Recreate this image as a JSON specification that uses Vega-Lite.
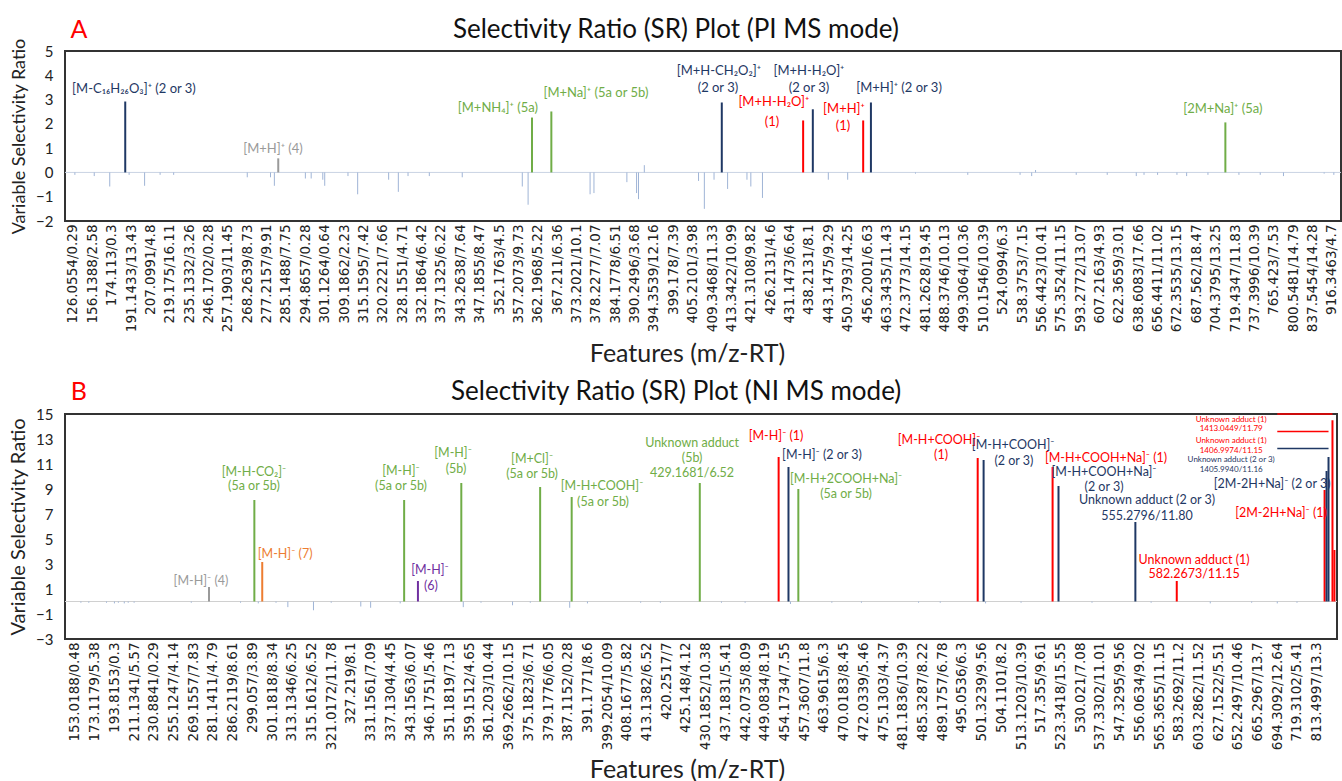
{
  "$schema": "https://vega.github.io/schema/vega-lite/v6.json",
  "background": "white",
  "padding": {"left": 7, "top": 15, "right": 0, "bottom": 0},
  "spacing": 9,
  "config": {
    "font": "Lato",
    "view": {"stroke": "#333333", "strokeWidth": 2},
    "axis": {"grid": false, "ticks": false, "domain": false, "labelColor": "#222222", "titleColor": "#222222", "titleFontWeight": "normal", "labelFont": "Lato", "titleFont": "Lato", "labelOverlap": false, "labelSeparation": 0},
    "text": {"font": "Lato"}
  },
  "datasets": {
    "barsA": [
      {"feature": 1, "sr": -0.1, "compound": "minor"}, {"feature": 11, "sr": -0.15, "compound": "minor"}, {"feature": 19, "sr": -0.58, "compound": "minor"}, {"feature": 29, "sr": -0.1, "compound": "minor"}, {"feature": 37, "sr": -0.55, "compound": "minor"}, {"feature": 45, "sr": -0.1, "compound": "minor"}, {"feature": 52, "sr": -0.1, "compound": "minor"}, {"feature": 90, "sr": -0.2, "compound": "minor"}, {"feature": 102, "sr": -0.2, "compound": "minor"}, {"feature": 104, "sr": -0.55, "compound": "minor"}, {"feature": 120, "sr": -0.25, "compound": "minor"}, {"feature": 123, "sr": -0.25, "compound": "minor"}, {"feature": 129, "sr": -0.3, "compound": "minor"}, {"feature": 130, "sr": -0.55, "compound": "minor"}, {"feature": 142, "sr": -0.15, "compound": "minor"}, {"feature": 147, "sr": -0.9, "compound": "minor"}, {"feature": 163, "sr": -0.3, "compound": "minor"}, {"feature": 168, "sr": -0.8, "compound": "minor"}, {"feature": 173, "sr": -0.15, "compound": "minor"}, {"feature": 184, "sr": -0.15, "compound": "minor"}, {"feature": 201, "sr": -0.2, "compound": "minor"}, {"feature": 232, "sr": -0.58, "compound": "minor"}, {"feature": 235, "sr": -1.33, "compound": "minor"}, {"feature": 267, "sr": -0.9, "compound": "minor"}, {"feature": 269, "sr": -0.85, "compound": "minor"}, {"feature": 286, "sr": -0.4, "compound": "minor"}, {"feature": 291, "sr": -0.85, "compound": "minor"}, {"feature": 292, "sr": -1.1, "compound": "minor"}, {"feature": 295, "sr": 0.3, "compound": "minor"}, {"feature": 323, "sr": -0.35, "compound": "minor"}, {"feature": 326, "sr": -1.5, "compound": "minor"}, {"feature": 331, "sr": -0.3, "compound": "minor"}, {"feature": 338, "sr": -0.68, "compound": "minor"}, {"feature": 348, "sr": -0.3, "compound": "minor"}, {"feature": 350, "sr": -0.58, "compound": "minor"}, {"feature": 356, "sr": -1.05, "compound": "minor"}, {"feature": 390, "sr": -0.3, "compound": "minor"}, {"feature": 400, "sr": -0.3, "compound": "minor"}, {"feature": 435, "sr": -0.05, "compound": "minor"}, {"feature": 462, "sr": -0.1, "compound": "minor"}, {"feature": 489, "sr": -0.1, "compound": "minor"}, {"feature": 495, "sr": -0.15, "compound": "minor"}, {"feature": 497, "sr": 0.1, "compound": "minor"}, {"feature": 518, "sr": -0.1, "compound": "minor"}, {"feature": 534, "sr": -0.1, "compound": "minor"}, {"feature": 549, "sr": -0.15, "compound": "minor"}, {"feature": 553, "sr": -0.1, "compound": "minor"}, {"feature": 560, "sr": -0.1, "compound": "minor"}, {"feature": 570, "sr": -0.1, "compound": "minor"}, {"feature": 575, "sr": -0.15, "compound": "minor"}, {"feature": 586, "sr": -0.1, "compound": "minor"}, {"feature": 602, "sr": -0.1, "compound": "minor"}, {"feature": 613, "sr": -0.1, "compound": "minor"}, {"feature": 625, "sr": -0.15, "compound": "minor"}, {"feature": 646, "sr": -0.05, "compound": "minor"}, {"feature": 651, "sr": -0.1, "compound": "minor"},
      {"feature": 27, "sr": 2.92, "compound": "2 or 3"}, {"feature": 106, "sr": 0.58, "compound": "4"}, {"feature": 237, "sr": 2.26, "compound": "5"}, {"feature": 247, "sr": 2.51, "compound": "5"}, {"feature": 335, "sr": 2.88, "compound": "2 or 3"}, {"feature": 377, "sr": 2.14, "compound": "1"}, {"feature": 382, "sr": 2.6, "compound": "2 or 3"}, {"feature": 408, "sr": 2.14, "compound": "1"}, {"feature": 412, "sr": 2.88, "compound": "2 or 3"}, {"feature": 595, "sr": 2.06, "compound": "5"}
    ],
    "labelsA": [
      {"feature": 31.5, "sr": 3.42, "text": "[M-C₁₆H₂₆O₃]⁺ (2 or 3)", "compound": "2 or 3"},
      {"feature": 103.3, "sr": 0.95, "text": "[M+H]⁺ (4)", "compound": "4"},
      {"feature": 219.4, "sr": 2.67, "text": "[M+NH₄]⁺ (5a)", "compound": "5"},
      {"feature": 270.0, "sr": 3.29, "text": "[M+Na]⁺ (5a or 5b)", "compound": "5"},
      {"feature": 333.5, "sr": 4.16, "text": "[M+H-CH₂O₂]⁺", "compound": "2 or 3"},
      {"feature": 333.0, "sr": 3.46, "text": "(2 or 3)", "compound": "2 or 3"},
      {"feature": 380.0, "sr": 4.16, "text": "[M+H-H₂O]⁺", "compound": "2 or 3"},
      {"feature": 380.0, "sr": 3.46, "text": "(2 or 3)", "compound": "2 or 3"},
      {"feature": 361.9, "sr": 2.88, "text": "[M+H-H₂O]⁺", "compound": "1"},
      {"feature": 360.9, "sr": 2.06, "text": "(1)", "compound": "1"},
      {"feature": 398.1, "sr": 2.63, "text": "[M+H]⁺", "compound": "1"},
      {"feature": 397.6, "sr": 1.93, "text": "(1)", "compound": "1"},
      {"feature": 426.5, "sr": 3.46, "text": "[M+H]⁺ (2 or 3)", "compound": "2 or 3"},
      {"feature": 593.7, "sr": 2.63, "text": "[2M+Na]⁺ (5a)", "compound": "5"}
    ],
    "headA": [
      {"feature": 311.3, "sr": 5.88, "text": "Selectivity Ratio (SR) Plot (PI MS mode)", "part": "title"},
      {"feature": 3.1, "sr": 5.88, "text": "A", "part": "tag"}
    ],
    "barsB": [
      {"feature": 3, "sr": -0.1, "compound": "minor"}, {"feature": 7, "sr": -0.1, "compound": "minor"}, {"feature": 16, "sr": -0.1, "compound": "minor"}, {"feature": 20, "sr": -0.15, "compound": "minor"}, {"feature": 22, "sr": -0.1, "compound": "minor"}, {"feature": 25, "sr": -0.15, "compound": "minor"}, {"feature": 27, "sr": -0.1, "compound": "minor"}, {"feature": 30, "sr": -0.1, "compound": "minor"}, {"feature": 59, "sr": -0.1, "compound": "minor"}, {"feature": 84, "sr": -0.1, "compound": "minor"}, {"feature": 93, "sr": -0.15, "compound": "minor"}, {"feature": 102, "sr": -0.1, "compound": "minor"}, {"feature": 108, "sr": -0.45, "compound": "minor"}, {"feature": 121, "sr": -0.7, "compound": "minor"}, {"feature": 130, "sr": -0.1, "compound": "minor"}, {"feature": 145, "sr": -0.4, "compound": "minor"}, {"feature": 150, "sr": -0.5, "compound": "minor"}, {"feature": 165, "sr": -0.15, "compound": "minor"}, {"feature": 197, "sr": -0.45, "compound": "minor"}, {"feature": 206, "sr": -0.1, "compound": "minor"}, {"feature": 222, "sr": -0.3, "compound": "minor"}, {"feature": 231, "sr": -0.1, "compound": "minor"}, {"feature": 251, "sr": -0.5, "compound": "minor"}, {"feature": 260, "sr": -0.15, "compound": "minor"}, {"feature": 287, "sr": -0.1, "compound": "minor"}, {"feature": 297, "sr": -0.1, "compound": "minor"}, {"feature": 328, "sr": -0.1, "compound": "minor"}, {"feature": 340, "sr": -0.1, "compound": "minor"}, {"feature": 363, "sr": -0.2, "compound": "minor"}, {"feature": 384, "sr": -0.1, "compound": "minor"}, {"feature": 399, "sr": -0.1, "compound": "minor"}, {"feature": 428, "sr": -0.1, "compound": "minor"}, {"feature": 439, "sr": -0.1, "compound": "minor"}, {"feature": 462, "sr": -0.15, "compound": "minor"}, {"feature": 480, "sr": -0.1, "compound": "minor"}, {"feature": 516, "sr": -0.1, "compound": "minor"}, {"feature": 546, "sr": -0.1, "compound": "minor"}, {"feature": 576, "sr": -0.15, "compound": "minor"}, {"feature": 597, "sr": -0.1, "compound": "minor"}, {"feature": 610, "sr": -0.15, "compound": "minor"}, {"feature": 620, "sr": -0.1, "compound": "minor"},
      {"feature": 68, "sr": 1.16, "compound": "4"}, {"feature": 91, "sr": 8.12, "compound": "5"}, {"feature": 95, "sr": 3.16, "compound": "7"}, {"feature": 167, "sr": 8.12, "compound": "5"}, {"feature": 174, "sr": 1.64, "compound": "6"}, {"feature": 196, "sr": 9.48, "compound": "5"}, {"feature": 236, "sr": 9.16, "compound": "5"}, {"feature": 252, "sr": 8.36, "compound": "5"}, {"feature": 317, "sr": 9.48, "compound": "5"}, {"feature": 357, "sr": 11.56, "compound": "1"}, {"feature": 362, "sr": 10.76, "compound": "2 or 3"}, {"feature": 367, "sr": 9.0, "compound": "5"}, {"feature": 458, "sr": 11.48, "compound": "1"}, {"feature": 461, "sr": 11.32, "compound": "2 or 3"}, {"feature": 496, "sr": 10.76, "compound": "1"}, {"feature": 499, "sr": 9.24, "compound": "2 or 3"}, {"feature": 538, "sr": 6.36, "compound": "2 or 3"}, {"feature": 559, "sr": 1.64, "compound": "1"}, {"feature": 634, "sr": 8.92, "compound": "1"}, {"feature": 635, "sr": 10.44, "compound": "2 or 3"}, {"feature": 636, "sr": 11.56, "compound": "2 or 3"}, {"feature": 638, "sr": 14.5, "compound": "1"}, {"feature": 639, "sr": 4.12, "compound": "1"}
    ],
    "labelsB": [
      {"feature": 63.9, "sr": 1.68, "text": "[M-H]⁻ (4)", "compound": "4"},
      {"feature": 90.8, "sr": 10.4, "text": "[M-H-CO₂]⁻", "compound": "5"},
      {"feature": 90.8, "sr": 9.28, "text": "(5a or 5b)", "compound": "5"},
      {"feature": 106.6, "sr": 3.84, "text": "[M-H]⁻ (7)", "compound": "7"},
      {"feature": 165.4, "sr": 10.48, "text": "[M-H]⁻", "compound": "5"},
      {"feature": 165.4, "sr": 9.28, "text": "(5a or 5b)", "compound": "5"},
      {"feature": 180.1, "sr": 2.56, "text": "[M-H]⁻", "compound": "6"},
      {"feature": 180.6, "sr": 1.28, "text": "(6)", "compound": "6"},
      {"feature": 191.8, "sr": 11.92, "text": "[M-H]⁻", "compound": "5"},
      {"feature": 193.3, "sr": 10.64, "text": "(5b)", "compound": "5"},
      {"feature": 231.9, "sr": 11.44, "text": "[M+Cl]⁻", "compound": "5"},
      {"feature": 231.9, "sr": 10.24, "text": "(5a or 5b)", "compound": "5"},
      {"feature": 267.4, "sr": 9.28, "text": "[M-H+COOH]⁻", "compound": "5"},
      {"feature": 267.9, "sr": 8.0, "text": "(5a or 5b)", "compound": "5"},
      {"feature": 313.1, "sr": 12.72, "text": "Unknown adduct", "compound": "5"},
      {"feature": 313.1, "sr": 11.52, "text": "(5b)", "compound": "5"},
      {"feature": 313.1, "sr": 10.32, "text": "429.1681/6.52", "compound": "5"},
      {"feature": 355.7, "sr": 13.28, "text": "[M-H]⁻ (1)", "compound": "1"},
      {"feature": 379.0, "sr": 11.76, "text": "[M-H]⁻ (2 or 3)", "compound": "2 or 3"},
      {"feature": 391.2, "sr": 9.84, "text": "[M-H+2COOH+Na]⁻", "compound": "5"},
      {"feature": 391.2, "sr": 8.64, "text": "(5a or 5b)", "compound": "5"},
      {"feature": 438.4, "sr": 12.96, "text": "[M-H+COOH]⁻", "compound": "1"},
      {"feature": 439.4, "sr": 11.76, "text": "(1)", "compound": "1"},
      {"feature": 476.0, "sr": 12.56, "text": "[M-H+COOH]⁻", "compound": "2 or 3"},
      {"feature": 476.4, "sr": 11.28, "text": "(2 or 3)", "compound": "2 or 3"},
      {"feature": 523.1, "sr": 11.52, "text": "[M-H+COOH+Na]⁻ (1)", "compound": "1"},
      {"feature": 522.1, "sr": 10.4, "text": "[M-H+COOH+Na]⁻", "compound": "2 or 3"},
      {"feature": 522.1, "sr": 9.2, "text": "(2 or 3)", "compound": "2 or 3"},
      {"feature": 543.9, "sr": 8.16, "text": "Unknown adduct (2 or 3)", "compound": "2 or 3"},
      {"feature": 543.9, "sr": 6.88, "text": "555.2796/11.80", "compound": "2 or 3"},
      {"feature": 567.8, "sr": 3.36, "text": "Unknown adduct (1)", "compound": "1"},
      {"feature": 567.8, "sr": 2.24, "text": "582.2673/11.15", "compound": "1"},
      {"feature": 607.4, "sr": 9.44, "text": "[2M-2H+Na]⁻ (2 or 3)", "compound": "2 or 3"},
      {"feature": 611.9, "sr": 7.12, "text": "[2M-2H+Na]⁻ (1)", "compound": "1"}
    ],
    "notesB": [
      {"feature": 586.6, "sr": 14.56, "text": "Unknown adduct (1)", "compound": "1"},
      {"feature": 586.6, "sr": 13.84, "text": "1413.0449/11.79", "compound": "1"},
      {"feature": 586.6, "sr": 12.88, "text": "Unknown adduct (1)", "compound": "1"},
      {"feature": 586.6, "sr": 12.08, "text": "1406.9974/11.15", "compound": "1"},
      {"feature": 586.6, "sr": 11.36, "text": "Unknown adduct (2 or 3)", "compound": "2 or 3"},
      {"feature": 586.6, "sr": 10.56, "text": "1405.9940/11.16", "compound": "2 or 3"}
    ],
    "leadersB": [
      {"feature": 610, "feature2": 638, "sr": 15, "compound": "1"},
      {"feature": 610, "feature2": 636, "sr": 13.6, "compound": "1"},
      {"feature": 610, "feature2": 636, "sr": 12.24, "compound": "2 or 3"}
    ],
    "headB": [
      {"feature": 305.0, "sr": 16.8, "text": "Selectivity Ratio (SR) Plot (NI MS mode)", "part": "title"},
      {"feature": 2.0, "sr": 16.8, "text": "B", "part": "tag"}
    ]
  },
  "vconcat": [
    {
      "width": 1276,
      "height": 170,
      "encoding": {
        "x": {"field": "feature", "type": "quantitative", "scale": {"domain": [-4.1, 654.7], "nice": false, "zero": false},
          "axis": {"values": [0,10,20,30,40,50,60,70,80,90,100,110,120,130,140,150,160,170,180,190,200,210,220,230,240,250,260,270,280,290,300,310,320,330,340,350,360,370,380,390,400,410,420,430,440,450,460,470,480,490,500,510,520,530,540,550,560,570,580,590,600,610,620,630,640,650],
            "labelExpr": "['126.0554/0.29','156.1388/2.58','174.113/0.3','191.1433/13.43','207.0991/4.8','219.175/16.11','235.1332/3.26','246.1702/0.28','257.1903/11.45','268.2639/8.73','277.2157/9.91','285.1488/7.75','294.8657/0.28','301.1264/0.64','309.1862/2.23','315.1595/7.42','320.2221/7.66','328.1551/4.71','332.1864/6.42','337.1325/6.22','343.2638/7.64','347.1855/8.47','352.1763/4.5','357.2073/9.73','362.1968/5.22','367.211/6.36','373.2021/10.1','378.2277/7.07','384.1778/6.51','390.2496/3.68','394.3539/12.16','399.178/7.39','405.2101/3.98','409.3468/11.33','413.3422/10.99','421.3108/9.82','426.2131/4.6','431.1473/6.64','438.2131/8.1','443.1475/9.29','450.3793/14.25','456.2001/6.63','463.3435/11.43','472.3773/14.15','481.2628/19.45','488.3746/10.13','499.3064/10.36','510.1546/10.39','524.0994/6.3','538.3753/7.15','556.4423/10.41','575.3524/11.15','593.2772/13.07','607.2163/4.93','622.3659/3.01','638.6083/17.66','656.4411/11.02','672.3535/13.15','687.562/18.47','704.3795/13.25','719.4347/11.83','737.3996/10.39','765.423/7.53','800.5481/14.79','837.5454/14.28','916.3463/4.7'][round(datum.value/10)]",
            "labelAngle": -90, "labelFont": "DejaVu Sans", "labelFontSize": 13.5, "labelPadding": 3, "labelOverlap": false, "labelBound": false, "labelFlush": false,
            "title": "Features (m/z-RT)", "titleFontSize": 25, "titlePadding": 10, "titleX": 622}},
        "y": {"field": "sr", "type": "quantitative", "scale": {"domain": [-2, 5], "nice": false, "zero": false},
          "axis": {"values": [-2, -1, 0, 1, 2, 3, 4, 5], "labelOverlap": false, "labelFontSize": 15, "labelPadding": 12, "title": "Variable Selectivity Ratio", "titleFontSize": 18, "titlePadding": 7}},
        "color": {"field": "compound", "type": "nominal", "legend": null,
          "scale": {"domain": ["1", "2 or 3", "4", "5", "6", "7", "minor"], "range": ["#ff0000", "#1f3864", "#9a9a9a", "#70ad47", "#7030a0", "#ed7d31", "#9fb4d6"]}}
      },
      "layer": [
        {
          "data": {"values": [{"sr": 0}]},
          "mark": {"type": "rule", "strokeWidth": 1},
          "encoding": {"x": {"value": 0}, "x2": {"value": "width"}, "color": {"value": "#c9d3e3"}}
        },
        {
          "data": {"name": "barsA"},
          "transform": [{"filter": "datum.compound == 'minor'"}],
          "mark": {"type": "rule", "strokeWidth": 1},
          "encoding": {"y2": {"datum": 0}}
        },
        {
          "data": {"name": "barsA"},
          "transform": [{"filter": "datum.compound != 'minor'"}],
          "mark": {"type": "rule", "strokeWidth": 2},
          "encoding": {"y2": {"datum": 0}}
        },
        {
          "data": {"name": "labelsA"},
          "mark": {"type": "text", "fontSize": 13, "align": "center", "baseline": "middle"},
          "encoding": {"text": {"field": "text"}}
        },
        {
          "data": {"name": "headA"},
          "transform": [{"filter": "datum.part == 'title'"}],
          "mark": {"type": "text", "fontSize": 26, "align": "center", "baseline": "middle"},
          "encoding": {"text": {"field": "text"}, "color": {"value": "#111111"}}
        },
        {
          "data": {"name": "headA"},
          "transform": [{"filter": "datum.part == 'tag'"}],
          "mark": {"type": "text", "fontSize": 25, "align": "center", "baseline": "middle"},
          "encoding": {"text": {"field": "text"}, "color": {"value": "#ff0000"}}
        }
      ]
    },
    {
      "width": 1272,
      "height": 225,
      "encoding": {
        "x": {"field": "feature", "type": "quantitative", "scale": {"domain": [-5.07, 640.3], "nice": false, "zero": false},
          "axis": {"values": [0,10,20,30,40,50,60,70,80,90,100,110,120,130,140,150,160,170,180,190,200,210,220,230,240,250,260,270,280,290,300,310,320,330,340,350,360,370,380,390,400,410,420,430,440,450,460,470,480,490,500,510,520,530,540,550,560,570,580,590,600,610,620,630],
            "labelExpr": "['153.0188/0.48','173.1179/5.38','193.8153/0.3','211.1341/5.57','230.8841/0.29','255.1247/4.14','269.1557/7.83','281.1411/4.79','286.2119/8.61','299.057/3.89','301.1818/8.34','313.1346/6.25','315.1612/6.52','321.0172/11.78','327.219/8.1','331.1561/7.09','337.1304/4.45','343.1563/6.07','346.1751/5.46','351.1819/7.13','359.1512/4.65','361.203/10.44','369.2662/10.15','375.1823/6.71','379.1776/6.05','387.1152/0.28','391.1771/8.6','399.2054/10.09','408.1677/5.82','413.1382/6.52','420.2517/7','425.148/4.12','430.1852/10.38','437.1831/5.41','442.0735/8.09','449.0834/8.19','454.1734/7.55','457.3607/11.8','463.9615/6.3','470.0183/8.45','472.0339/5.46','475.1303/4.37','481.1836/10.39','485.3287/8.22','489.1757/6.78','495.0536/6.3','501.3239/9.56','504.1101/8.2','513.1203/10.39','517.355/9.61','523.3418/15.55','530.021/7.08','537.3302/11.01','547.3295/9.56','556.0634/9.02','565.3655/11.15','583.2692/11.2','603.2862/11.52','627.1522/5.51','652.2497/10.46','665.2967/13.7','694.3092/12.64','719.3102/5.41','813.4997/13.3'][round(datum.value/10)]",
            "labelAngle": -90, "labelFont": "DejaVu Sans", "labelFontSize": 13.5, "labelPadding": 3, "labelOverlap": false, "labelBound": false, "labelFlush": false,
            "title": "Features (m/z-RT)", "titleFontSize": 25, "titlePadding": 8, "titleX": 622}},
        "y": {"field": "sr", "type": "quantitative", "scale": {"domain": [-3, 15], "nice": false, "zero": false},
          "axis": {"values": [-3, -1, 1, 3, 5, 7, 9, 11, 13, 15], "labelOverlap": false, "labelFontSize": 15, "labelPadding": 12, "title": "Variable Selectivity Ratio", "titleFontSize": 20, "titlePadding": 7}},
        "color": {"field": "compound", "type": "nominal", "legend": null}
      },
      "layer": [
        {
          "data": {"values": [{"sr": 0}]},
          "mark": {"type": "rule", "strokeWidth": 1},
          "encoding": {"x": {"value": 0}, "x2": {"value": "width"}, "color": {"value": "#d0d0d0"}}
        },
        {
          "data": {"name": "barsB"},
          "transform": [{"filter": "datum.compound == 'minor'"}],
          "mark": {"type": "rule", "strokeWidth": 1},
          "encoding": {"y2": {"datum": 0}}
        },
        {
          "data": {"name": "barsB"},
          "transform": [{"filter": "datum.compound != 'minor'"}],
          "mark": {"type": "rule", "strokeWidth": 2},
          "encoding": {"y2": {"datum": 0}}
        },
        {
          "data": {"name": "leadersB"},
          "mark": {"type": "rule", "strokeWidth": 1.5},
          "encoding": {"x2": {"field": "feature2"}}
        },
        {
          "data": {"name": "labelsB"},
          "mark": {"type": "text", "fontSize": 12.5, "align": "center", "baseline": "middle"},
          "encoding": {"text": {"field": "text"}}
        },
        {
          "data": {"name": "notesB"},
          "mark": {"type": "text", "fontSize": 8, "align": "center", "baseline": "middle"},
          "encoding": {"text": {"field": "text"}}
        },
        {
          "data": {"name": "headB"},
          "transform": [{"filter": "datum.part == 'title'"}],
          "mark": {"type": "text", "fontSize": 26, "align": "center", "baseline": "middle"},
          "encoding": {"text": {"field": "text"}, "color": {"value": "#111111"}}
        },
        {
          "data": {"name": "headB"},
          "transform": [{"filter": "datum.part == 'tag'"}],
          "mark": {"type": "text", "fontSize": 25, "align": "center", "baseline": "middle"},
          "encoding": {"text": {"field": "text"}, "color": {"value": "#ff0000"}}
        }
      ]
    }
  ]
}
